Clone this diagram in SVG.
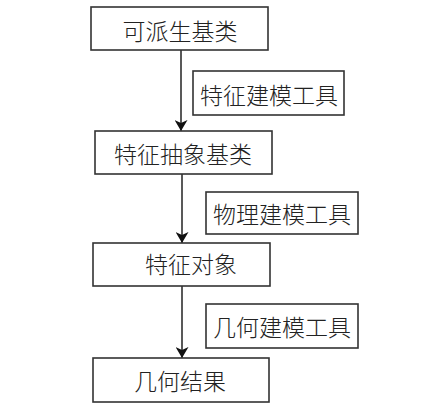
<svg xmlns="http://www.w3.org/2000/svg" width="427" height="415" viewBox="0 0 427 415">
<style>
.box{fill:#fff;stroke:#333;stroke-width:1.6}
.t{font-family:"Noto Sans CJK SC","Noto Sans",sans-serif;font-size:23px;font-weight:300;fill:#222;text-anchor:middle;dominant-baseline:central}
.c{stroke:#222;stroke-width:1.5;fill:none}
</style>
<defs>
<marker id="ah" viewBox="0 0 11 13" refX="11" refY="6.5" markerWidth="11" markerHeight="13" markerUnits="userSpaceOnUse" orient="auto">
<path d="M0,0 L11,6.5 L0,13 L3,6.5 Z" fill="#111"/>
</marker>
</defs>
<rect width="427" height="415" fill="#fff"/>
<g id="connectors">
<line class="c" x1="181" y1="50" x2="181" y2="131" marker-end="url(#ah)"/>
<line class="c" x1="182" y1="174" x2="182" y2="243" marker-end="url(#ah)"/>
<line class="c" x1="182" y1="286" x2="182" y2="358" marker-end="url(#ah)"/>
</g>
<g id="n1"><rect class="box" x="91" y="7" width="177" height="43"/><text class="t" x="180" y="30">可派生基类</text></g>
<g id="l1"><rect class="box" x="193" y="71" width="151" height="44"/><text class="t" x="269" y="94">特征建模工具</text></g>
<g id="n2"><rect class="box" x="95" y="131" width="177" height="43"/><text class="t" x="183" y="153">特征抽象基类</text></g>
<g id="l2"><rect class="box" x="206" y="192" width="152" height="42"/><text class="t" x="282" y="213">物理建模工具</text></g>
<g id="n3"><rect class="box" x="93" y="243" width="177" height="43"/><text class="t" x="191" y="263">特征对象</text></g>
<g id="l3"><rect class="box" x="206" y="304" width="152" height="44"/><text class="t" x="282" y="326">几何建模工具</text></g>
<g id="n4"><rect class="box" x="93" y="358" width="176" height="44"/><text class="t" x="180" y="380">几何结果</text></g>
</svg>
